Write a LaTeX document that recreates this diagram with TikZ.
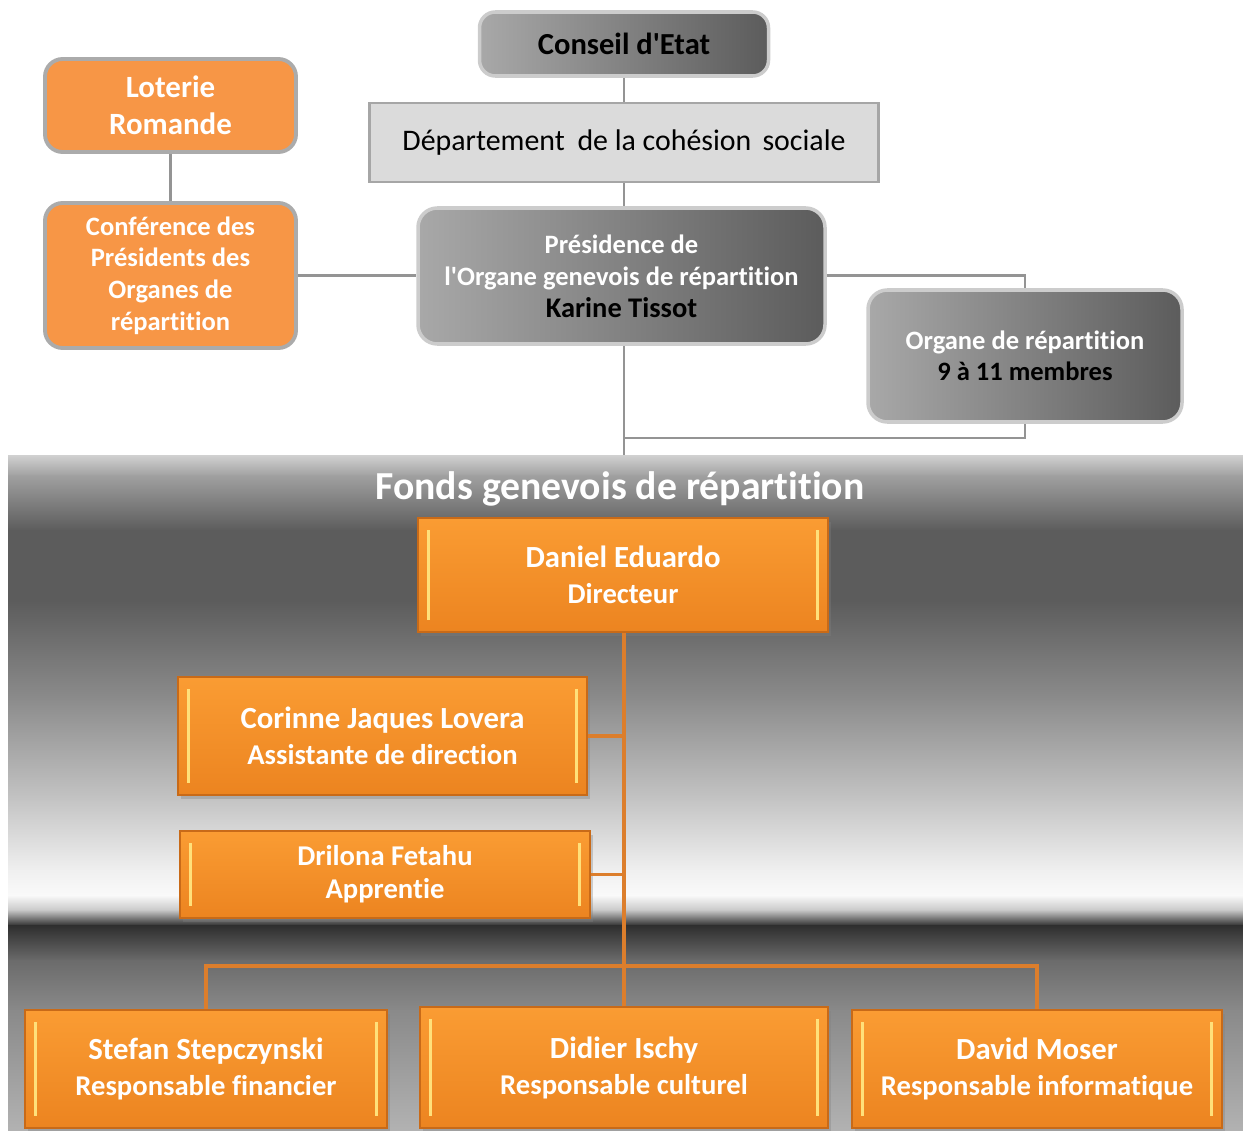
\documentclass[tikz,border=0pt]{standalone}
\usepackage{fontspec}
\setmainfont{Carlito}[Ligatures=NoCommon]
\usepackage{tikz}
\usetikzlibrary{calc,shadows}
\definecolor{lotorange}{HTML}{F79646}
\definecolor{fgtop}{HTML}{FA9C33}
\definecolor{fgbot}{HTML}{EC8420}
\definecolor{fgedge}{HTML}{C86A18}
\definecolor{fglight}{HTML}{FFE07A}
\definecolor{fgline}{HTML}{DC7E2C}
\def\px{0.02cm}
\def\graylink{\draw[color=black!42, line width=1.5pt]}
\def\orangelink{\draw[color=fgline, line width=2pt]}
\def\role{\fontsize{16.3}{20.5}\selectfont}
\tikzset{
  graybox/.style={rectangle, rounded corners=9pt, draw=black!20, line width=2pt,
    left color=black!34, right color=black!64, font=\bfseries, align=center, inner sep=0pt},
  lotbox/.style={rectangle, rounded corners=10pt, draw=black!33, line width=2.2pt,
    fill=lotorange, text=white, font=\bfseries, align=center, inner sep=0pt},
  fgbox/.style={rectangle, draw=fgedge, line width=0.8pt, top color=fgtop, bottom color=fgbot,
    text=white, align=center, inner sep=0pt,
    font=\bfseries\fontsize{17.5}{20.5}\selectfont,
    drop shadow={opacity=0.35, shadow xshift=1.5pt, shadow yshift=-2pt},
    path picture={
      \draw[fglight, line width=2.2pt]
        ([xshift=6pt,yshift=-7pt]path picture bounding box.north west) --
        ([xshift=6pt,yshift=7pt]path picture bounding box.south west);
      \draw[fglight, line width=2.2pt]
        ([xshift=-6pt,yshift=-7pt]path picture bounding box.north east) --
        ([xshift=-6pt,yshift=7pt]path picture bounding box.south east);
    }},
}

\begin{document}
\begin{tikzpicture}[x=0.02cm, y=-0.02cm]
\useasboundingbox (0,0) rectangle (1243,1131);

% ---------- the band behind the Fonds
\foreach \ya/\ca/\yb/\cb in {455/18/475/37, 475/37/530/64, 530/64/600/64, 600/64/700/45,
    700/45/800/23, 800/23/870/6, 870/6/895/2, 895/2/910/22, 910/22/925/82,
    925/82/960/58, 960/58/1010/46, 1010/46/1131/30}
  \shade[top color=black!\ca, bottom color=black!\cb] (8,\ya) rectangle (1243,\yb+1);

% ---------- upper part, in gray
\node[graybox, minimum width=289*\px, minimum height=64*\px,
  font=\bfseries\fontsize{17.4}{20}\selectfont] (conseil) at (624,44) {Conseil d\textquotesingle Etat};
\node[rectangle, draw=black!35, line width=1.7pt, fill=black!14, inner sep=0pt,
  minimum width=509*\px, minimum height=79*\px,
  font=\fontsize{17}{20}\selectfont] (dept) at (624,142.5)
  {Département\hspace{0.2em} de la cohésion\hspace{0.15em} sociale};
\node[graybox, rounded corners=11pt, minimum width=407*\px, minimum height=136*\px,
  text=white, font=\bfseries\fontsize{15.1}{18.3}\selectfont] (presid) at (621.5,276)
  {Présidence de\\l\textquotesingle Organe genevois de répartition\\\textcolor{black}{\fontsize{16.2}{18.3}\selectfont Karine Tissot}};
\node[graybox, rounded corners=11pt, minimum width=314*\px, minimum height=132*\px,
  text=white, font=\bfseries\fontsize{15.1}{17.8}\selectfont] (organe) at (1025,356)
  {Organe de répartition\\\textcolor{black}{9 à 11 membres}};

% ---------- left column, in orange
\node[lotbox, minimum width=251*\px, minimum height=93*\px,
  font=\bfseries\fontsize{17.6}{21}\selectfont] (loterie) at (170.5,105.5) {Loterie\\Romande};
\node[lotbox, minimum width=251*\px, minimum height=145*\px,
  font=\bfseries\fontsize{15.1}{18}\selectfont] (conf) at (170.5,275.5)
  {Conférence des\\Présidents des\\Organes de\\répartition};

\coordinate (fondstop) at (624,455);
\coordinate (orgjoin) at (624,438);
\graylink (conseil) -- (dept);
\graylink (dept) -- (presid.north -| dept.south);
\graylink (loterie) -- (conf);
\graylink (conf.east) -- (conf.east -| presid.west);
\graylink (presid.east |- conf.east) -| (organe.north);
\graylink (presid.south -| fondstop) -- (fondstop);
\graylink (organe.south) |- (orgjoin);

% ---------- the Fonds
\node[text=white, font=\bfseries\fontsize{22.6}{26}\selectfont] (fonds) at (620,489)
  {Fonds genevois de répartition};
\node[fgbox, minimum width=410*\px, minimum height=114*\px] (daniel) at (623,575)
  {Daniel Eduardo\\\role Directeur};
\node[fgbox, minimum width=409*\px, minimum height=118*\px] (corinne) at (382.5,736)
  {Corinne Jaques Lovera\\\role Assistante de direction};
\node[fgbox, minimum width=410*\px, minimum height=87*\px,
  font=\bfseries\fontsize{16.3}{19}\selectfont] (drilona) at (385,874.5) {Drilona Fetahu\\Apprentie};
\node[fgbox, minimum width=362*\px, minimum height=118*\px] (stefan) at (206,1069)
  {Stefan Stepczynski\\\role Responsable financier};
\node[fgbox, minimum width=408*\px, minimum height=121*\px] (didier) at (624,1067.5)
  {Didier Ischy\\\role Responsable culturel};
\node[fgbox, minimum width=370*\px, minimum height=118*\px] (david) at (1037,1069)
  {David Moser\\\role Responsable informatique};

\coordinate (split) at (624,966);
\orangelink (daniel.south -| didier.north) -- (didier.north);
\orangelink (corinne.east) -- (corinne.east -| didier.north);
\orangelink (drilona.east) -- (drilona.east -| didier.north);
\orangelink (stefan.north) |- (split) -| (david.north);
\end{tikzpicture}
\end{document}
